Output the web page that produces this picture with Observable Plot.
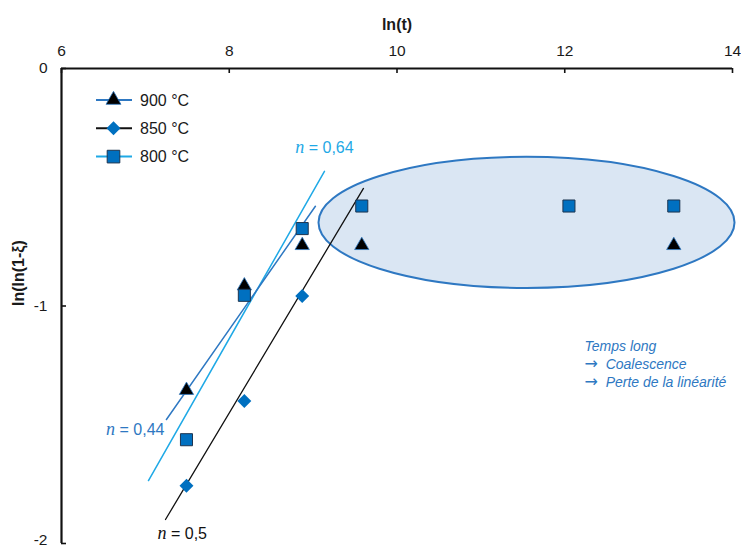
<!DOCTYPE html>
<html><head><meta charset="utf-8">
<script src="https://cdn.jsdelivr.net/npm/d3@7"></script>
<script src="https://cdn.jsdelivr.net/npm/@observablehq/plot@0.6"></script>
<style>
body{margin:0;background:#fff;}
#wrap{position:relative;width:741px;height:548px;font-family:"Liberation Sans",Arial,sans-serif;overflow:hidden;}
#legend{position:absolute;left:0;top:0;pointer-events:none;}
</style></head><body><div id="wrap"></div>
<script>
// ---- data ----
const xTicks = [6, 8, 10, 12, 14];
const yTicks = [0, -1];
const yTicksLow = [-2];
const seriesNames = ["900 °C", "850 °C", "800 °C"];
const x900 = [7.49, 8.18, 8.87, 9.58, 13.30];
const y900 = [-1.355, -0.915, -0.745, -0.745, -0.745];
const x850 = [7.49, 8.18, 8.87];
const y850 = [-1.757, -1.400, -0.958];
const x800 = [7.49, 8.18, 8.87, 9.58, 12.05, 13.30];
const y800 = [-1.563, -0.955, -0.674, -0.579, -0.579, -0.579];
// fitted lines (endpoints)
const fit900X = [7.251, 9.027], fit900Y = [-1.478, -0.580];
const fit850X = [7.240, 9.600], fit850Y = [-1.899, -0.505];
const fit800X = [7.037, 9.135], fit800Y = [-1.735, -0.433];
const nLabels = ["n = 0,44", "n = 0,5", "n = 0,64"];
// highlighted region (ellipse center and radii, in data units)
const ellipseCenter = [11.55, -0.650];
const ellipseRadii = [2.48, 0.276];
const noteLines = ["Temps long", "→  Coalescence", "→  Perte de la linéarité"];
const xLabel = "ln(t)";
const yLabel = "ln(ln(1-ξ)";

// ---- styles ----
const C_MED = "#2E78C2", C_LIGHT = "#1FA9E6", C_FILL = "#0070C0", C_SQ_STROKE = "#1d3550";
const toPts = (xs, ys) => xs.map((x, i) => ({x, y: ys[i]}));
const allYTicks = yTicks.concat(yTicksLow);

function ellipseMark(index, scales) {
  const cx = scales.x(ellipseCenter[0]), cy = scales.y(ellipseCenter[1]);
  const rx = Math.abs(scales.x(ellipseCenter[0] + ellipseRadii[0]) - cx);
  const ry = Math.abs(scales.y(ellipseCenter[1] + ellipseRadii[1]) - cy);
  return d3.create("svg:ellipse")
    .attr("cx", cx).attr("cy", cy).attr("rx", rx).attr("ry", ry)
    .attr("fill", "#DAE6F3").attr("stroke", C_MED).attr("stroke-width", 2).node();
}

const plot = Plot.plot({
  width: 741, height: 548,
  marginTop: 68, marginLeft: 61, marginRight: 9, marginBottom: 5,
  x: {domain: [6, 14]},
  y: {domain: [-2, 0]},
  style: {fontFamily: "'Liberation Sans', Arial, sans-serif", fontSize: "15.5px", color: "#1a1a1a", background: "white", overflow: "visible"},
  marks: [
    ellipseMark,
    Plot.axisX(xTicks, {anchor: "top", tickSize: 0, tickPadding: 13, label: null, fontSize: 15.5}),
    Plot.axisY(yTicks, {anchor: "left", tickSize: 0, tickPadding: 14, label: null, fontSize: 15.5, tickFormat: d => String(d)}),
    Plot.axisY(yTicksLow, {anchor: "left", tickSize: 0, tickPadding: 14, label: null, fontSize: 15.5, dy: -3, tickFormat: d => String(d)}),
    Plot.ruleX(xTicks, {y1: 0, y2: 0, insetBottom: -5, stroke: "#111", strokeWidth: 1.6}),
    Plot.ruleY(allYTicks, {x1: 6, x2: 6, insetRight: -5, stroke: "#111", strokeWidth: 1.6}),
    Plot.ruleY([0], {stroke: "#111", strokeWidth: 2.2}),
    Plot.ruleX([6], {stroke: "#111", strokeWidth: 2.2}),
    Plot.line(toPts(fit800X, fit800Y), {x: "x", y: "y", stroke: C_LIGHT, strokeWidth: 1.5}),
    Plot.line(toPts(fit900X, fit900Y), {x: "x", y: "y", stroke: C_MED, strokeWidth: 1.5}),
    Plot.line(toPts(fit850X, fit850Y), {x: "x", y: "y", stroke: "#111", strokeWidth: 1.3}),
    Plot.dot(toPts(x850, y850), {x: "x", y: "y", symbol: "diamond2", r: 6.3, fill: C_FILL}),
    Plot.dot(toPts(x900, y900), {x: "x", y: "y", symbol: "triangle", r: 5.3, fill: "#000", stroke: C_MED, strokeWidth: 0.8}),
    Plot.dot(toPts(x800, y800), {x: "x", y: "y", symbol: "square", r: 6.8, fill: C_FILL, stroke: C_SQ_STROKE, strokeWidth: 1}),
    Plot.text([{x: fit900X[0], y: fit900Y[0], t: nLabels[0]}], {x: "x", y: "y", text: "t", dx: -2, dy: 10, textAnchor: "end", fill: C_MED, fontSize: 16}),
    Plot.text([{x: fit850X[0], y: fit850Y[0], t: nLabels[1]}], {x: "x", y: "y", text: "t", dx: -8, dy: 14, textAnchor: "start", fill: "#111", fontSize: 16}),
    Plot.text([{x: fit800X[1], y: fit800Y[1], t: nLabels[2]}], {x: "x", y: "y", text: "t", dx: 0, dy: -23, textAnchor: "middle", fill: C_LIGHT, fontSize: 16}),
    Plot.text([noteLines.join("\n")], {frameAnchor: "top-left", dx: 523, dy: 270, text: d => d, textAnchor: "start", lineAnchor: "top", lineHeight: 1.27, fontSize: 14, fontStyle: "italic", fill: C_MED}),
    Plot.text([xLabel], {frameAnchor: "top", dy: -50, text: d => d, fontWeight: "bold", fontSize: 16}),
    Plot.text([yLabel], {frameAnchor: "left", dx: -43, rotate: -90, text: d => d, fontWeight: "bold", fontSize: 16})
  ]
});

const ns = "http://www.w3.org/2000/svg";
// italic serif "n" in the slope labels
plot.querySelectorAll("text").forEach(t => {
  if (t.children.length === 0 && /^n = /.test(t.textContent)) {
    const rest = t.textContent.slice(1);
    t.textContent = "";
    const a = document.createElementNS(ns, "tspan");
    a.setAttribute("font-family", "'Liberation Serif', 'DejaVu Serif', serif");
    a.setAttribute("font-style", "italic");
    a.setAttribute("font-size", "18");
    a.textContent = "n";
    const b = document.createElementNS(ns, "tspan");
    b.textContent = rest;
    t.appendChild(a); t.appendChild(b);
  }
});
// full-size arrows in the note
plot.querySelectorAll("tspan").forEach(t => {
  if (t.children.length === 0 && t.textContent.startsWith("→")) {
    const rest = t.textContent.slice(1);
    t.textContent = "";
    const a = document.createElementNS(ns, "tspan");
    a.setAttribute("font-family", "'DejaVu Sans', sans-serif");
    a.setAttribute("font-style", "normal");
    a.setAttribute("font-size", "16");
    a.textContent = "→";
    const b = document.createElementNS(ns, "tspan");
    b.textContent = rest;
    t.appendChild(a); t.appendChild(b);
  }
});

const wrap = document.getElementById("wrap");
wrap.appendChild(plot);

// legend overlay
const legendStyles = [
  {line: C_MED, symbol: d3.symbolTriangle, size: 97, fill: "#000", stroke: C_MED, sw: 0.8},
  {line: "#111", symbol: d3.symbolDiamond2, size: 125, fill: C_FILL, stroke: "none", sw: 0},
  {line: C_LIGHT, symbol: d3.symbolSquare, size: 160, fill: C_FILL, stroke: C_SQ_STROKE, sw: 1}
];
const lg = d3.select(wrap).append("svg").attr("id", "legend").attr("width", 741).attr("height", 548);
seriesNames.forEach((name, i) => {
  const st = legendStyles[i];
  const g = lg.append("g").attr("transform", `translate(96, ${100 + i * 28.3})`);
  g.append("line").attr("x1", 0).attr("x2", 36).attr("stroke", st.line).attr("stroke-width", 2);
  g.append("path").attr("d", d3.symbol(st.symbol, st.size)()).attr("transform", "translate(17.5,0)")
    .attr("fill", st.fill).attr("stroke", st.stroke).attr("stroke-width", st.sw);
  g.append("text").attr("x", 44).attr("dy", "0.36em").attr("font-size", 16)
    .attr("font-family", "'Liberation Sans', Arial, sans-serif").attr("fill", "#1a1a1a").text(name);
});
</script></body></html>
